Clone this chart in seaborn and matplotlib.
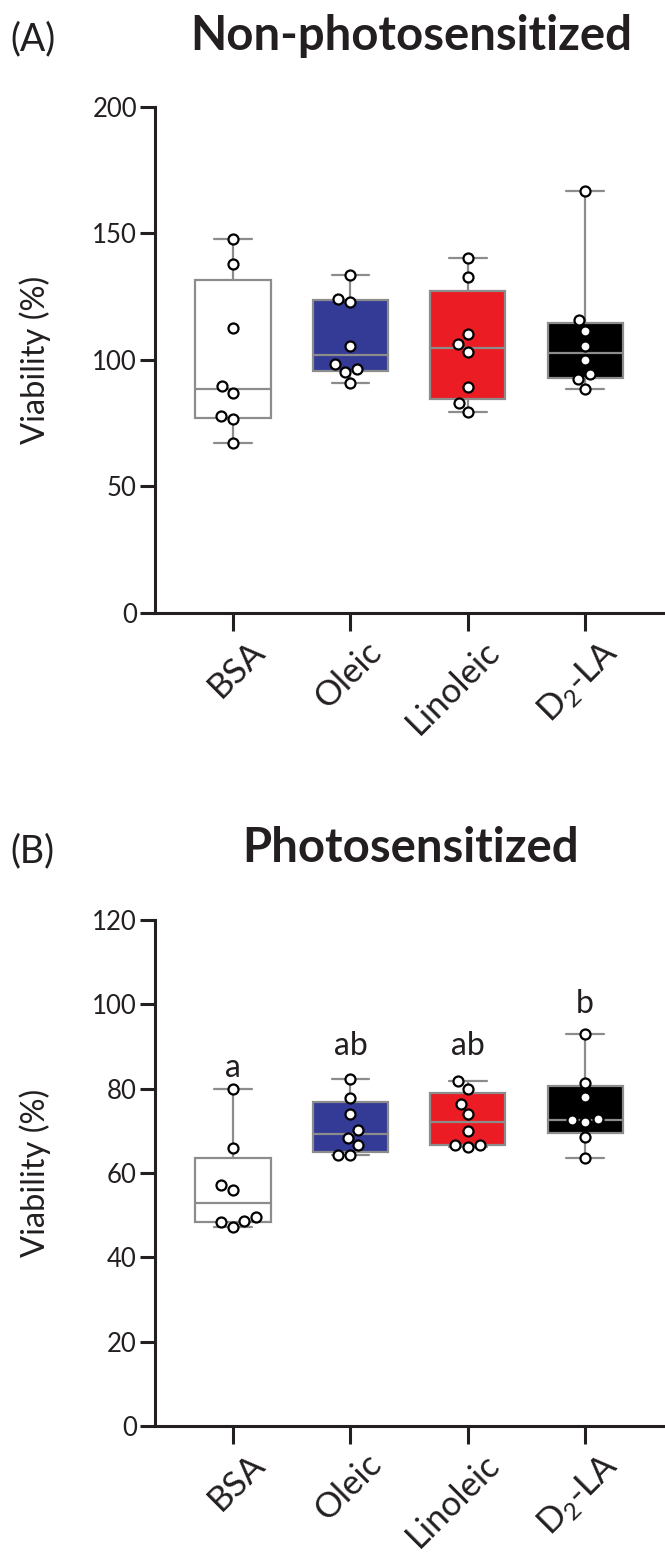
import numpy as np
import pandas as pd
import matplotlib
matplotlib.use("Agg")
import matplotlib.pyplot as plt
import matplotlib.transforms as mtransforms
import seaborn as sns

# groups on the x axis
groups = ["BSA", "Oleic", "Linoleic", "D2-LA"]
tick_labels = ["BSA", "Oleic", "Linoleic", r"D$_\mathregular{2}$-LA"]
box_colors = ["white", "#333b96", "#ec1c24", "black"]

# viability (%) without light
dark_bsa = [147.8, 137.9, 112.6, 89.7, 87.0, 77.9, 76.7, 67.2]
dark_oleic = [133.6, 124.0, 123.0, 105.5, 98.4, 96.4, 95.3, 91.0]
dark_linoleic = [140.3, 132.8, 110.3, 106.3, 103.2, 89.3, 83.0, 79.4]
dark_d2la = [166.8, 115.8, 111.5, 105.5, 100.0, 94.5, 92.5, 88.5]

# viability (%) after photosensitization, panel B
light_bsa = [79.9, 65.8, 57.2, 56.0, 49.6, 48.6, 48.4, 47.2]
light_oleic = [82.3, 77.8, 74.0, 70.2, 68.3, 66.6, 64.3, 64.3]
light_linoleic = [81.8, 79.9, 76.4, 74.0, 70.0, 66.6, 66.6, 66.2]
light_d2la = [93.0, 81.4, 78.0, 72.8, 72.5, 72.1, 68.5, 63.6]

# significance letters for panel B and the height they sit at
letters = ["a", "ab", "ab", "b"]
letter_y = [82.8, 88.0, 88.0, 97.9]

sns.set_theme(style="ticks")
plt.rcParams["font.family"] = ["Lato", "DejaVu Sans"]
plt.rcParams["mathtext.fontset"] = "custom"
plt.rcParams["mathtext.rm"] = "Lato"
plt.rcParams["text.color"] = "#231f20"
plt.rcParams["axes.labelcolor"] = "#231f20"
plt.rcParams["xtick.color"] = "#231f20"
plt.rcParams["ytick.color"] = "#231f20"

edge = "#8c8c8c"


def panel(fig, ax, values, ymax, step):
    df = pd.DataFrame({
        "group": np.repeat(groups, [len(v) for v in values]),
        "viability": np.concatenate(values),
    })
    # GraphPad style quartiles (n+1 method), whiskers min to max
    stats = []
    for name, v in zip(groups, values):
        q1, med, q3 = np.percentile(v, [25, 50, 75], method="weibull")
        stats.append(dict(label=name, med=med, q1=q1, q3=q3,
                          whislo=min(v), whishi=max(v), fliers=[]))
    line = dict(color=edge, linewidth=1.6)
    bp = ax.bxp(stats, positions=range(len(groups)), widths=0.64,
                capwidths=0.32, patch_artist=True, showfliers=False,
                boxprops=dict(edgecolor=edge, linewidth=1.6),
                whiskerprops=line, capprops=line, medianprops=line,
                zorder=1)
    for patch, c in zip(bp["boxes"], box_colors):
        patch.set_facecolor(c)

    sns.swarmplot(data=df, x="group", y="viability", order=groups,
                  color="white", edgecolor="black", linewidth=1.6,
                  size=7.2, ax=ax, zorder=3)

    ax.set_xlim(-0.665, 3.68)
    ax.set_ylim(0, ymax)
    ax.set_yticks(np.arange(0, ymax + 1, step))
    ax.set_xticks(range(len(groups)))
    ax.set_xticklabels([])
    # slanted category labels, sitting a bit right of the tick like the original
    shift = mtransforms.ScaledTranslation(15 / 100, -22 / 100, fig.dpi_scale_trans)
    for i, lab in enumerate(tick_labels):
        ax.text(i, 0, lab, rotation=45, ha="right", va="top",
                rotation_mode="anchor", fontsize=25,
                transform=ax.get_xaxis_transform() + shift)
    ax.tick_params(axis="y", labelsize=18.5, length=11, width=2.2, pad=2)
    ax.tick_params(axis="x", length=13, width=2.2)
    ax.set_xlabel("")
    ax.set_ylabel("Viability (%)", fontsize=23.5)
    ax.yaxis.set_label_coords(-0.203, 0.5)
    sns.despine(ax=ax)
    for s in ["left", "bottom"]:
        ax.spines[s].set_linewidth(2.2)
        ax.spines[s].set_color("#231f20")


fig = plt.figure(figsize=(6.65, 15.61), dpi=100)
ax1 = fig.add_axes([0.233, 0.6073, 0.767, 0.3242])
ax2 = fig.add_axes([0.233, 0.0865, 0.767, 0.3242])

panel(fig, ax1, [dark_bsa, dark_oleic, dark_linoleic, dark_d2la], 200, 50)
panel(fig, ax2, [light_bsa, light_oleic, light_linoleic, light_d2la], 120, 20)

for i, (lab, y) in enumerate(zip(letters, letter_y)):
    ax2.text(i, y, lab, ha="center", va="baseline", fontsize=23)

fig.text(0.618, 1 - 50 / 1561, "Non-photosensitized", ha="center",
         va="baseline", fontsize=34, fontweight="bold")
fig.text(0.015, 1 - 50 / 1561, "(A)", ha="left", va="baseline", fontsize=27)
fig.text(0.618, 1 - 862 / 1561, "Photosensitized", ha="center",
         va="baseline", fontsize=34, fontweight="bold")
fig.text(0.015, 1 - 862 / 1561, "(B)", ha="left", va="baseline", fontsize=27)

fig.savefig("out.png", dpi=100)
